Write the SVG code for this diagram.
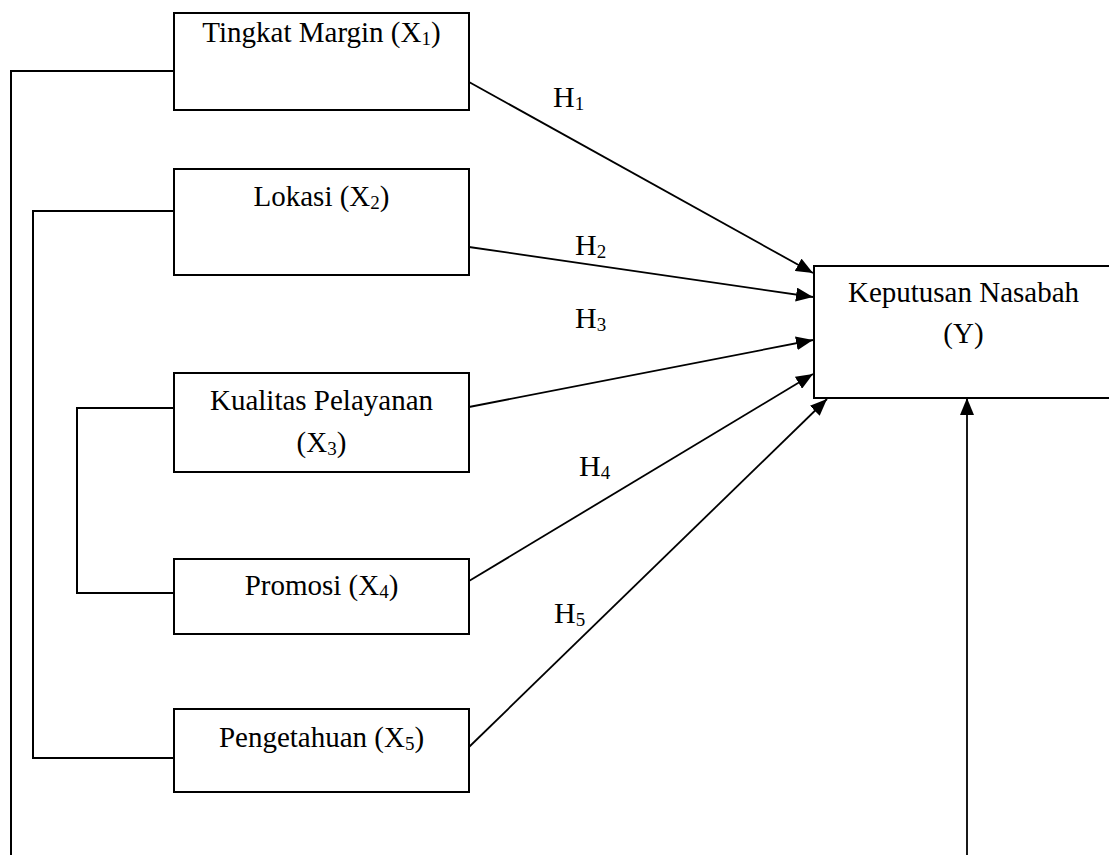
<svg xmlns="http://www.w3.org/2000/svg" width="1109" height="855" viewBox="0 0 1109 855">
<style>
.box{fill:#fff;stroke:#000;stroke-width:2}
.t{font-family:"Liberation Serif","Times New Roman",serif;font-size:29px;fill:#000;text-anchor:middle}
.h{font-family:"Liberation Serif","Times New Roman",serif;font-size:30px;fill:#000}
.s{font-size:19px}
.ln{fill:none;stroke:#000;stroke-width:2}
.ar{fill:none;stroke:#000;stroke-width:1.8;marker-end:url(#ah)}
</style>
<defs>
<marker id="ah" markerUnits="userSpaceOnUse" markerWidth="18" markerHeight="14" refX="17" refY="7" orient="auto">
<path d="M0,0 L17,7 L0,14 z" fill="#000"/>
</marker>
</defs>
<rect width="1109" height="855" fill="#fff"/>
<g id="connectors">
<polyline class="ln" points="174,71 11,71 11,856"/>
<polyline class="ln" points="174,211 33,211 33,758 174,758"/>
<polyline class="ln" points="174,408 77,408 77,593 174,593"/>
<line class="ar" x1="469" y1="82" x2="813" y2="273"/>
<line class="ar" x1="469" y1="247" x2="813" y2="297"/>
<line class="ar" x1="469" y1="407" x2="813" y2="340"/>
<line class="ar" x1="469" y1="581" x2="813" y2="374"/>
<line class="ar" x1="469" y1="747" x2="827" y2="399"/>
<line class="ar" x1="967" y1="856" x2="967" y2="398"/>
<text class="h" x="553" y="107">H<tspan class="s" dy="3">1</tspan></text>
<text class="h" x="575" y="255">H<tspan class="s" dy="3">2</tspan></text>
<text class="h" x="575" y="328">H<tspan class="s" dy="3">3</tspan></text>
<text class="h" x="579" y="476">H<tspan class="s" dy="3">4</tspan></text>
<text class="h" x="554" y="623">H<tspan class="s" dy="3">5</tspan></text>
</g>
<g id="x1">
<rect class="box" x="174" y="13" width="295" height="97"/>
<text class="t" x="321.5" y="42">Tingkat Margin (X<tspan class="s" dy="3">1</tspan><tspan dy="-3">)</tspan></text>
</g>
<g id="x2">
<rect class="box" x="174" y="169" width="295" height="106"/>
<text class="t" x="321.5" y="206">Lokasi (X<tspan class="s" dy="3">2</tspan><tspan dy="-3">)</tspan></text>
</g>
<g id="x3">
<rect class="box" x="174" y="373" width="295" height="99"/>
<text class="t" x="321.5" y="410">Kualitas Pelayanan</text>
<text class="t" x="321.5" y="452">(X<tspan class="s" dy="3">3</tspan><tspan dy="-3">)</tspan></text>
</g>
<g id="x4">
<rect class="box" x="174" y="559" width="295" height="75"/>
<text class="t" x="321.5" y="595">Promosi (X<tspan class="s" dy="3">4</tspan><tspan dy="-3">)</tspan></text>
</g>
<g id="x5">
<rect class="box" x="174" y="709" width="295" height="83"/>
<text class="t" x="321.5" y="747">Pengetahuan (X<tspan class="s" dy="3">5</tspan><tspan dy="-3">)</tspan></text>
</g>
<g id="y">
<rect class="box" x="814" y="266" width="310" height="132"/>
<text class="t" x="963.5" y="302">Keputusan Nasabah</text>
<text class="t" x="963.5" y="343">(Y)</text>
</g>
</svg>
